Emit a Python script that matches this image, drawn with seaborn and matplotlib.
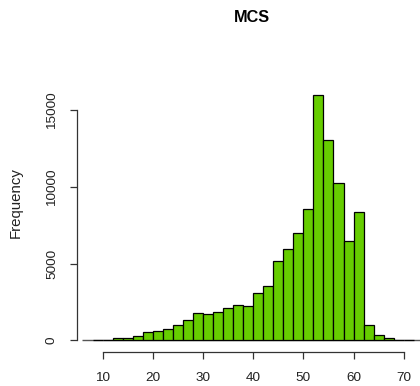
import matplotlib
matplotlib.use("Agg")
import matplotlib.pyplot as plt
import numpy as np
import pandas as pd
import seaborn as sns

# Histogram of MCS scores: bin edges (width 2) and the count in each bin
bin_edges = [8, 10, 12, 14, 16, 18, 20, 22, 24, 26, 28, 30, 32, 34, 36, 38, 40,
             42, 44, 46, 48, 50, 52, 54, 56, 58, 60, 62, 64, 66, 68, 70, 72]
counts = [50, 50, 140, 140, 300, 540, 600, 730, 1000, 1320, 1760, 1690, 1820,
          2130, 2300, 2260, 3100, 3520, 5140, 5930, 6990, 8550, 16000, 13050,
          10220, 6450, 8360, 1000, 360, 140, 50, 40]
x_ticks = [10, 20, 30, 40, 50, 60, 70]
y_ticks = [0, 5000, 10000, 15000]
title = "MCS"
y_label = "Frequency"

sns.set_style("white")
plt.rcParams["font.family"] = ["Liberation Sans", "DejaVu Sans"]

W, H = 420, 386
fig = plt.figure(figsize=(W / 100, H / 100), dpi=100)
fig.patch.set_facecolor("white")

# plot region in pixels (R-style, extends past the right edge)
left_px, right_px, top_px, bottom_px = 77, 426.6, 84.8, 351.7
ax = fig.add_axes([left_px / W, 1 - bottom_px / H,
                   (right_px - left_px) / W, (bottom_px - top_px) / H])
ax.set_facecolor("white")

mids = [(a + b) / 2 for a, b in zip(bin_edges[:-1], bin_edges[1:])]
df = pd.DataFrame({"MCS": mids, "count": counts})
sns.histplot(data=df, x="MCS", weights="count", bins=bin_edges,
             color="#66CD00", edgecolor="black", linewidth=0.9, alpha=1,
             ax=ax)

ax.set_xlim(4.877, 74.56)
ax.set_ylim(-742.5, 16641)
ax.hlines(0, 5.87, 74.56, color="#555555", lw=1.0, zorder=0.5)

for s in ("top", "right"):
    ax.spines[s].set_visible(False)
for s in ("left", "bottom"):
    ax.spines[s].set_color("#333333")
    ax.spines[s].set_linewidth(0.9)
ax.spines["left"].set_bounds(0, 15000)
ax.spines["bottom"].set_bounds(10, 70)

ax.set_xticks(x_ticks)
ax.set_xticklabels([str(v) for v in x_ticks])
ax.set_yticks(y_ticks)
ax.set_yticklabels([str(v) for v in y_ticks], rotation=90, va="center")
ax.tick_params(axis="both", which="major", direction="out", length=5.3,
               width=0.9, color="#333333", labelsize=9.7, labelcolor="#222222",
               left=True, bottom=True)
ax.tick_params(axis="x", pad=9.5)
ax.tick_params(axis="y", pad=8.4)
ax.set_xlabel("")
ax.set_ylabel("")
ax.grid(False)

fig.text(16 / W, 1 - 203 / H, y_label, rotation=90, ha="center", va="center",
         fontsize=10.8, color="#222222")
fig.text(252 / W, 1 - 17 / H, title, ha="center", va="center",
         fontsize=11.7, fontweight="bold", color="black")

fig.savefig("out.png", dpi=100, facecolor="white")
